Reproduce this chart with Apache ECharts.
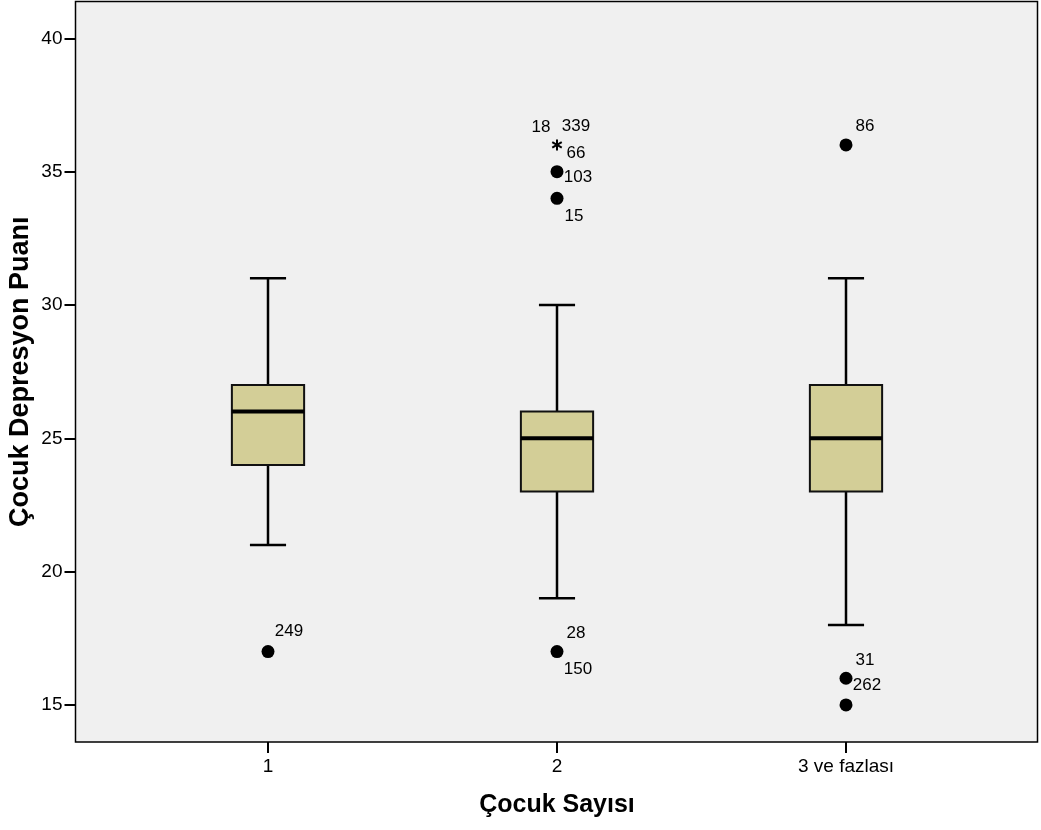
<!DOCTYPE html>
<html>
<head>
<meta charset="utf-8">
<script src="https://cdn.jsdelivr.net/npm/echarts@6/dist/echarts.min.js"></script>
<style>
  html, body { margin: 0; padding: 0; background: #ffffff; }
  #chart { width: 1041px; height: 830px; }
</style>
</head>
<body>
<div id="chart"></div>
<script>
// Box plot: child depression score by number of children
const categories = ['1', '2', '3 ve fazlası'];
const whiskerLow  = [21, 19, 18];
const quartile1   = [24, 23, 23];
const medians     = [26, 25, 25];
const quartile3   = [27, 26, 27];
const whiskerHigh = [31, 30, 31];

// Outliers (circles) and extreme values (stars): category index, score
const outlierCats   = [0, 1, 1, 1, 2, 2, 2];
const outlierValues = [17, 35, 34, 17, 36, 16, 15];
const extremeCats   = [1];
const extremeValues = [36];

// Case numbers written next to the outliers
const caseLabels = ['249', '18', '339', '66', '103', '15', '28', '150', '86', '31', '262'];
const caseCats   = [0, 1, 1, 1, 1, 1, 1, 1, 2, 2, 2];
const caseValues = [17, 36, 36, 35, 35, 34, 17, 17, 36, 16, 16];

const yTicks = [15, 20, 25, 30, 35, 40];

// Pixel offsets of each case label relative to its point
const caseLabelOffsets = [
  [21, -20], [-16, -18], [19, -19], [19, -18], [21, 6], [17, 18],
  [19, -18], [21, 18], [19, -19], [19, -18], [21, 7]
];

const FONT = '"Liberation Sans", Arial, sans-serif';
const Y_MIN = 13.61, Y_MAX = 41.38;
const GRID_TOP = 1.5, GRID_H = 740.5;

const boxData = categories.map((c, i) =>
  [i, whiskerLow[i], quartile1[i], medians[i], quartile3[i], whiskerHigh[i]]);

function renderBox(params, api) {
  const i = api.value(0);
  const band = api.size([1, 0])[0];
  const halfBox = band * 0.125;
  const halfCap = halfBox / 2;
  const p = k => api.coord([i, api.value(k)]);
  const lo = p(1), q1 = p(2), md = p(3), q3 = p(4), hi = p(5);
  const x = lo[0];
  const line = (x1, y1, x2, y2, w) => ({
    type: 'line',
    shape: { x1, y1, x2, y2 },
    style: { stroke: '#000', lineWidth: w }
  });
  return {
    type: 'group',
    children: [
      line(x, q1[1], x, lo[1], 2.5),
      line(x, q3[1], x, hi[1], 2.5),
      line(x - halfCap, lo[1], x + halfCap, lo[1], 2.5),
      line(x - halfCap, hi[1], x + halfCap, hi[1], 2.5),
      {
        type: 'rect',
        shape: { x: x - halfBox, y: q3[1], width: halfBox * 2, height: q1[1] - q3[1] },
        style: { fill: '#d3ce97', stroke: '#111', lineWidth: 2 }
      },
      line(x - halfBox, md[1], x + halfBox, md[1], 4)
    ]
  };
}

// Asterisk marker for extreme values
function renderStar(params, api) {
  const c = api.coord([api.value(0), api.value(1)]);
  const r = 5.5;
  const children = [];
  for (let k = 0; k < 3; k++) {
    const a = Math.PI / 2 + k * Math.PI / 3;
    const dx = Math.cos(a) * r, dy = Math.sin(a) * r;
    children.push({
      type: 'line',
      shape: { x1: c[0] - dx, y1: c[1] - dy, x2: c[0] + dx, y2: c[1] + dy },
      style: { stroke: '#000', lineWidth: 2 }
    });
  }
  return { type: 'group', children };
}

const chart = echarts.init(document.getElementById('chart'), null, { renderer: 'canvas' });

chart.setOption({
  animation: false,
  backgroundColor: '#ffffff',
  grid: [
    { left: 75.5, top: GRID_TOP, width: 962, height: GRID_H, show: true,
      outerBoundsMode: 'none', containLabel: false,
      backgroundColor: '#f0f0f0', borderColor: '#000', borderWidth: 1.5 },
    { left: 123.5, top: GRID_TOP, width: 867, height: GRID_H,
      outerBoundsMode: 'none', containLabel: false }
  ],
  xAxis: [
    { type: 'value', gridIndex: 0, show: false, min: 0, max: 1 },
    {
      type: 'category', gridIndex: 1, data: categories,
      name: 'Çocuk Sayısı', nameLocation: 'middle', nameGap: 51, nameMoveOverlap: false,
      nameTextStyle: { fontFamily: FONT, fontSize: 25, fontWeight: 'bold', color: '#000' },
      axisLine: { show: false },
      axisTick: { show: true, alignWithLabel: true, length: 11, lineStyle: { color: '#000', width: 2 } },
      axisLabel: { margin: 15, fontFamily: FONT, fontSize: 19, color: '#000' },
      splitLine: { show: false }
    }
  ],
  yAxis: [
    {
      type: 'value', gridIndex: 0, min: Y_MIN, max: Y_MAX,
      name: 'Çocuk Depresyon Puanı', nameLocation: 'middle', nameGap: 41, nameRotate: 90,
      nameMoveOverlap: false,
      nameTextStyle: { fontFamily: FONT, fontSize: 27, fontWeight: 'bold', color: '#000' },
      axisLine: { show: false },
      axisTick: { show: true, length: 11, customValues: yTicks, lineStyle: { color: '#000', width: 2 } },
      axisLabel: { margin: 13, customValues: yTicks, fontFamily: FONT, fontSize: 19, color: '#000' },
      splitLine: { show: false }
    },
    { type: 'value', gridIndex: 1, min: Y_MIN, max: Y_MAX, show: false, splitLine: { show: false } }
  ],
  series: [
    {
      type: 'custom', xAxisIndex: 1, yAxisIndex: 1,
      data: boxData, encode: { x: 0, y: [1, 2, 3, 4, 5] },
      renderItem: renderBox, silent: true
    },
    {
      type: 'scatter', xAxisIndex: 1, yAxisIndex: 1,
      data: outlierCats.map((c, i) => [c, outlierValues[i]]),
      symbol: 'circle', symbolSize: 13,
      itemStyle: { color: '#000', opacity: 1 }
    },
    {
      type: 'custom', xAxisIndex: 1, yAxisIndex: 1,
      data: extremeCats.map((c, i) => [c, extremeValues[i]]),
      encode: { x: 0, y: 1 },
      renderItem: renderStar, silent: true
    },
    {
      type: 'scatter', xAxisIndex: 1, yAxisIndex: 1,
      symbolSize: 1, itemStyle: { color: 'rgba(0,0,0,0)', opacity: 1 },
      data: caseLabels.map((t, i) => ({
        name: t,
        value: [caseCats[i], caseValues[i]],
        label: { offset: caseLabelOffsets[i] }
      })),
      label: {
        show: true, position: 'inside', formatter: '{b}',
        fontFamily: FONT, fontSize: 17, color: '#000'
      }
    }
  ]
});
</script>
</body>
</html>
